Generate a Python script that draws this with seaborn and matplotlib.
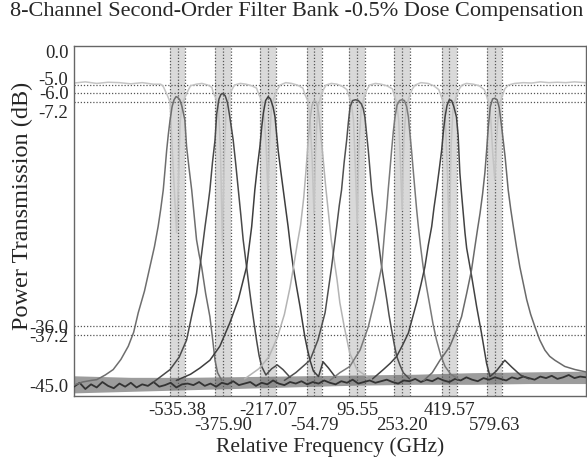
import numpy as np
import matplotlib
matplotlib.use("Agg")
import matplotlib.pyplot as plt
from matplotlib.transforms import ScaledTranslation
import seaborn as sns

# channel centres (GHz) and tick labels
centers = [-535.38, -375.90, -217.07, -54.79, 95.55, 253.20, 419.57, 579.63]
center_labels = ["-535.38", "-375.90", "-217.07", "-54.79", "95.55", "253.20", "419.57", "579.63"]
ref_levels = [0.0, -5.0, -6.0, -7.2, -36.0, -37.2, -45.0]
ref_labels = ["0.0", "-5.0", "-6.0", "-7.2", "-36.0", "-37.2", "-45.0"]
grid_levels = [-5.0, -6.0, -7.2, -36.0, -37.2]

# drop-port spectra (GHz, dB)
ch1_f = [-900, -870, -840, -820, -790, -762, -735, -709, -690, -674, -652, -633, -617, -604, -595, -586,
         -580, -574, -568, -562, -555, -548, -541, -535, -528, -520, -510, -504, -495, -486, -478, -469,
         -460, -451, -437, -422, -412, -404, -395, -380]
ch1_db = [-43.6, -43.2, -43.0, -42.9, -42.3, -41.6, -40.3, -38.6, -36.8, -34.3, -31.5, -28.4, -25.8, -23.2, -21.0, -18.5,
          -16.0, -13.4, -11.3, -9.5, -7.8, -6.9, -6.5, -6.6, -6.9, -7.8, -9.5, -12.9, -15.8, -18.5, -21.5, -24.9,
          -26.8, -28.4, -31.8, -34.8, -37.8, -40.4, -42.0, -43.0]

ch2_f = [-620, -562, -530, -504, -485, -469, -457, -448, -439, -430, -422, -413, -404, -398, -390, -383,
         -376, -368, -360, -352, -340, -331, -322, -313, -305, -293, -284, -275, -266, -258, -249, -240,
         -225, -205, -185, -165, -140]
ch2_db = [-43.2, -41.6, -40.0, -37.8, -34.5, -31.8, -28.4, -25.8, -23.2, -20.8, -18.5, -15.0, -12.1, -8.7, -6.8, -6.2,
          -6.1, -6.4, -7.3, -9.1, -12.1, -15.2, -18.5, -21.8, -24.9, -28.4, -31.0, -33.5, -35.8, -37.8, -39.8, -41.2,
          -42.3, -41.5, -41.0, -41.6, -42.6]

ch3_f = [-540, -490, -457, -422, -387, -352, -322, -293, -284, -275, -264, -255, -246, -240, -234, -226,
         -217, -209, -200, -193, -182, -173, -164, -155, -147, -138, -129, -117, -105, -96, -88, -79,
         -70, -58, -40, -24, -5, 20]
ch3_db = [-43.0, -42.2, -41.4, -40.4, -38.6, -35.6, -32.6, -28.4, -25.8, -23.2, -18.5, -15.5, -12.9, -10.5, -8.6, -7.0,
          -6.5, -6.8, -7.8, -9.1, -13.4, -16.0, -18.5, -21.0, -23.2, -26.0, -28.4, -31.0, -33.5, -35.6, -37.4, -39.0,
          -40.4, -41.8, -42.5, -40.6, -41.4, -42.6]

ch4_f = [-300, -250, -215, -185, -160, -140, -128, -115, -103, -92, -84, -77, -70, -63, -55, -47,
         -40, -33, -25, -15, -5, 5, 15, 25, 35, 50, 70, 95, 130]
ch4_db = [-42.8, -41.5, -40.0, -37.5, -34.5, -31.0, -28.4, -25.5, -23.0, -19.5, -16.0, -12.5, -9.5, -7.6, -7.0, -7.2,
          -8.5, -11.0, -14.0, -18.0, -21.5, -25.0, -27.5, -30.0, -33.0, -36.0, -39.5, -41.6, -42.5]

ch5_f = [-160, -120, -95, -70, -42, -17, 6, 15, 24, 33, 41, 50, 59, 65, 71, 80,
         90, 100, 110, 117, 123, 135, 147, 155, 164, 173, 182, 191, 200, 208, 217, 226,
         235, 246, 258, 280]
ch5_db = [-43.0, -42.0, -41.2, -40.4, -37.8, -34.3, -28.4, -25.8, -23.2, -20.5, -18.5, -15.0, -12.1, -9.8, -7.8, -7.0,
          -6.9, -7.0, -7.4, -8.0, -9.1, -13.4, -18.5, -20.8, -23.2, -25.8, -28.4, -30.5, -32.6, -34.6, -36.5, -38.3,
          -39.9, -41.0, -42.0, -42.8]

ch6_f = [0, 35, 70, 106, 135, 158, 182, 188, 194, 200, 205, 211, 217, 223, 229, 236,
         245, 253, 262, 270, 276, 287, 299, 305, 311, 319, 328, 340, 352, 363, 375, 390,
         405, 425, 450]
ch6_db = [-43.0, -42.0, -41.2, -39.1, -36.1, -32.6, -28.4, -25.8, -23.2, -20.8, -18.5, -16.0, -13.4, -11.0, -9.1, -7.6,
          -7.0, -6.9, -7.0, -7.8, -9.1, -13.4, -18.5, -21.0, -23.2, -25.8, -28.4, -31.0, -33.5, -35.8, -37.8, -39.8,
          -41.2, -42.2, -42.8]

ch7_f = [150, 188, 212, 235, 255, 276, 290, 305, 320, 334, 346, 358, 366, 375, 384, 393,
         399, 405, 412, 420, 428, 436, 445, 451, 457, 463, 469, 475, 481, 498, 516, 533,
         551, 563, 585, 615, 640, 670, 700]
ch7_db = [-42.8, -41.6, -40.8, -39.9, -38.5, -36.9, -35.0, -33.0, -30.7, -28.4, -25.6, -23.2, -20.8, -18.5, -16.0, -13.4,
          -11.0, -9.1, -7.6, -6.9, -7.0, -7.8, -9.1, -11.5, -16.3, -19.0, -21.5, -24.0, -26.0, -29.5, -33.5, -36.9,
          -40.8, -42.5, -41.8, -40.4, -41.3, -42.3, -42.8]

ch8_f = [330, 360, 387, 405, 422, 446, 463, 481, 498, 510, 519, 528, 537, 545, 551, 557,
         564, 572, 580, 588, 596, 604, 610, 616, 627, 636, 645, 656, 668, 680, 692, 706,
         721, 738, 756, 773, 791, 826, 862, 900]
ch8_db = [-43.0, -42.0, -40.4, -39.5, -38.6, -36.5, -34.8, -31.8, -28.8, -25.8, -23.6, -21.5, -19.0, -16.3, -13.5, -10.4,
          -7.8, -6.8, -6.7, -6.9, -8.0, -10.4, -12.3, -14.2, -18.5, -21.0, -23.2, -25.8, -28.4, -30.5, -32.6, -34.5,
          -36.1, -37.8, -39.1, -39.9, -40.4, -41.2, -41.6, -41.9]

# through-port spectrum
thru_f = [-900, -860, -820, -780, -740, -700, -660, -620, -595,
          -586, -572, -562, -556, -545, -539, -533, -527, -520, -510, -500, -490,
          -470, -450, -430, -415,
          -410, -400, -392, -385, -378, -372, -365, -355, -345, -335,
          -315, -295, -275, -258,
          -250, -240, -232, -224, -218, -212, -205, -195, -185, -175,
          -155, -135, -115, -95,
          -88, -78, -70, -62, -56, -50, -43, -33, -23, -13,
          5, 25, 45, 60,
          66, 75, 83, 90, 96, 102, 110, 120, 130, 140,
          160, 180, 200, 220,
          226, 234, 242, 248, 254, 260, 268, 278, 290, 300,
          320, 345, 365, 383,
          390, 398, 406, 413, 420, 426, 433, 443, 455, 465,
          480, 505, 525, 543,
          550, 558, 566, 573, 580, 586, 594, 604, 615, 628,
          650, 680, 710, 740, 770, 800, 830, 860, 900]
thru_db = [-4.75, -4.6, -4.8, -4.65, -4.7, -4.85, -4.7, -4.9, -4.9,
           -5.2, -6.3, -7.2, -12.0, -20.0, -24.0, -18.0, -10.0, -7.5, -6.6, -5.8, -5.1,
           -4.9, -4.8, -5.0, -5.3,
           -6.0, -6.8, -7.8, -13.0, -25.4, -15.0, -8.0, -6.6, -5.6, -5.0,
           -4.8, -4.9, -5.1, -5.4,
           -6.2, -7.0, -8.5, -13.0, -18.9, -12.0, -7.6, -6.5, -5.6, -5.0,
           -4.7, -4.8, -5.0, -5.4,
           -6.2, -7.0, -9.0, -15.0, -21.5, -13.0, -8.0, -6.6, -5.6, -5.0,
           -4.8, -4.9, -5.2, -5.6,
           -6.3, -7.2, -9.5, -16.0, -22.8, -13.0, -8.0, -6.6, -5.6, -5.0,
           -4.8, -4.9, -5.1, -5.5,
           -6.3, -7.2, -9.5, -15.0, -21.0, -12.0, -8.0, -6.6, -5.5, -5.0,
           -4.7, -4.8, -5.1, -5.6,
           -6.3, -7.2, -9.5, -16.0, -24.9, -13.0, -8.0, -6.6, -5.5, -5.0,
           -4.8, -4.9, -5.1, -5.6,
           -6.3, -7.2, -9.5, -14.0, -17.2, -12.0, -8.0, -6.6, -5.5, -5.0,
           -4.8, -4.7, -4.75, -4.6, -4.7, -4.65, -4.7, -4.6, -4.7]

# measurement noise floor (every 20 GHz from -900 to 900)
floor_f = np.arange(-900, 901, 20)
floor_db = [-43.8, -43.3, -44.1, -43.5, -43.9, -43.2, -43.7, -44.0, -43.4, -43.8, -43.3, -43.9, -43.5, -43.7, -43.2,
            -43.8, -43.6, -43.3, -43.9, -43.5, -43.4,
            -43.6, -43.2, -43.7, -43.4, -43.8, -43.3, -43.5, -43.1, -43.6, -43.4, -43.2, -43.7, -43.3, -43.5, -43.0,
            -43.4, -43.6, -43.2, -43.4, -43.1,
            -43.5, -43.2, -43.4, -43.0, -43.3, -43.5, -43.1, -43.3, -42.9, -43.4, -43.2, -43.0, -43.3, -43.1, -42.9,
            -43.2, -43.4, -43.0, -43.1, -42.8,
            -43.2, -42.9, -43.1, -42.7, -43.0, -43.2, -42.8, -43.0, -42.6, -42.9, -43.1, -42.7, -42.9, -42.6, -42.8,
            -43.0, -42.6, -42.8, -42.5, -42.7,
            -42.9, -42.5, -42.7, -42.4, -42.8, -42.6, -42.3, -42.7, -42.5, -42.6]
band_f = [-900, -700, -500, -300, -100, 100, 300, 500, 700, 900]
band_hi = [-42.4, -42.6, -42.6, -42.5, -42.4, -42.3, -42.2, -42.0, -41.9, -41.8]
band_lo = [-44.6, -44.4, -44.2, -44.0, -43.8, -43.6, -43.5, -43.5, -43.4, -43.4]

channels = [(ch1_f, ch1_db), (ch2_f, ch2_db), (ch3_f, ch3_db), (ch4_f, ch4_db),
            (ch5_f, ch5_db), (ch6_f, ch6_db), (ch7_f, ch7_db), (ch8_f, ch8_db)]
ch_colors = ["#6e6e6e", "#4a4a4a", "#3e3e3e", "#b4b4b4", "#505050", "#7a7a7a", "#424242", "#6a6a6a"]

sns.set_style("white")
plt.rcParams["font.family"] = ["Liberation Serif", "DejaVu Serif"]

fig = plt.figure(figsize=(5.87, 4.61), dpi=100)
ax = fig.add_axes([0.126, 0.141, 0.872, 0.759])

# shaded channel windows with dotted markers
for c in centers:
    ax.axvspan(c - 27, c + 27, color="#d9d9d9", lw=0, zorder=0)
    for dx in (-27, 0, 27):
        ax.axvline(c + dx, color="#555555", ls=(0, (1, 1.5)), lw=0.9, zorder=1)
for lvl in grid_levels:
    ax.axhline(lvl, color="#555555", ls=(0, (1, 1.5)), lw=0.9, zorder=1)

ax.fill_between(band_f, band_lo, band_hi, color="#5a5a5a", alpha=0.6, lw=0, zorder=2)
sns.lineplot(x=floor_f, y=floor_db, ax=ax, color="#333333", lw=1.3, zorder=3)
sns.lineplot(x=thru_f, y=thru_db, ax=ax, color="#c4c4c4", lw=1.1, zorder=2, sort=False)
for (f, db), col in zip(channels, ch_colors):
    sns.lineplot(x=f, y=db, ax=ax, color=col, lw=1.1, zorder=3, sort=False)

ax.set_xlim(-900, 900)
ax.set_ylim(-45, 0)
ax.set_xticks(centers)
ax.set_xticklabels(center_labels, fontsize=13.5)
ax.set_yticks(ref_levels)
ax.set_yticklabels(ref_labels, fontsize=13.5)
ax.tick_params(length=0, pad=4)

# stagger the crowded labels
for i, lab in enumerate(ax.get_xticklabels()):
    if i % 2 == 1:
        lab.set_transform(lab.get_transform() + ScaledTranslation(0, -0.155, fig.dpi_scale_trans))
y_nudge = {"0.0": -0.05, "-5.0": 0.06, "-7.2": -0.09, "-45.0": 0.10}
for lab in ax.get_yticklabels():
    dy = y_nudge.get(lab.get_text(), 0)
    if dy:
        lab.set_transform(lab.get_transform() + ScaledTranslation(0, dy, fig.dpi_scale_trans))

for sp in ax.spines.values():
    sp.set_color("#666666")
    sp.set_linewidth(1.0)

ax.set_xlabel("Relative Frequency (GHz)", fontsize=15.5)
ax.xaxis.label.set_va("center")
ax.xaxis.set_label_coords(0.5, -0.146)
ax.set_ylabel("Power Transmission (dB)", fontsize=17.5)
ax.yaxis.label.set_va("center")
ax.yaxis.set_label_coords(-0.1, 0.543)
fig.text(0.505, 0.974, "8-Channel Second-Order Filter Bank -0.5% Dose Compensation",
         fontsize=16, ha="center", va="center")

fig.savefig("out.png", dpi=100)
